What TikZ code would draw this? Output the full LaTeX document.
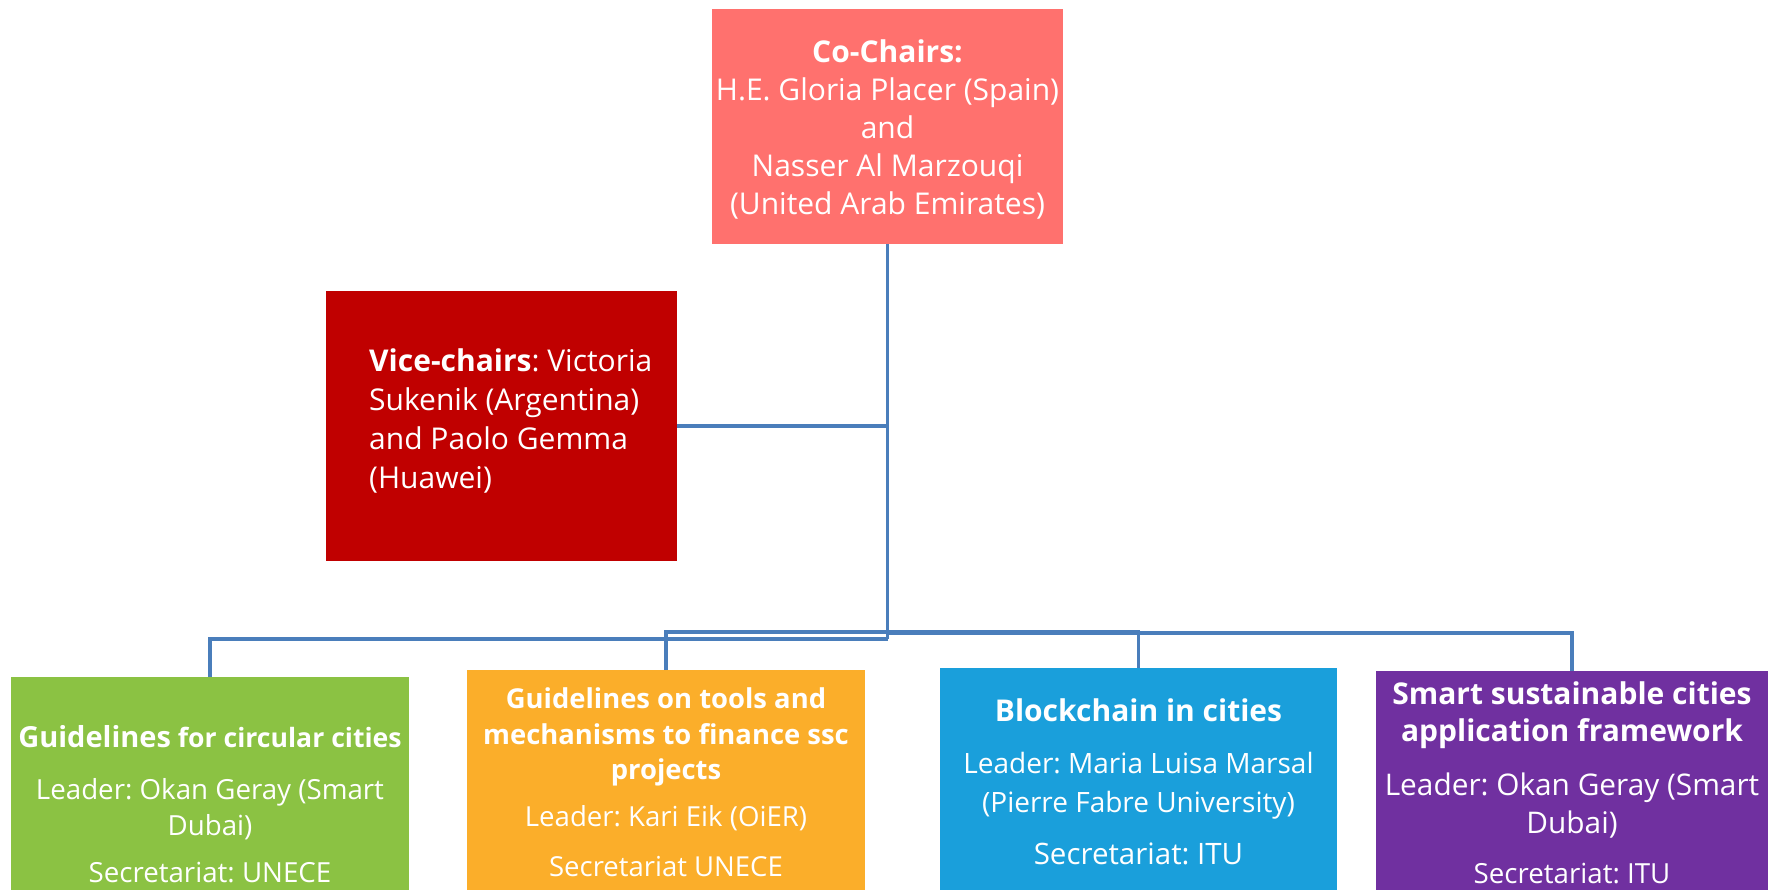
\documentclass[tikz,border=0pt]{standalone}
\usepackage{fontspec}
\setmainfont{Open Sans}
\frenchspacing
\definecolor{cochairc}{HTML}{FF716E}
\definecolor{vicec}{HTML}{C00000}
\definecolor{greenc}{HTML}{8BC243}
\definecolor{orangec}{HTML}{FBAE2A}
\definecolor{bluec}{HTML}{1A9FDB}
\definecolor{purplec}{HTML}{7030A0}
\definecolor{linec}{HTML}{4A7EBB}
\begin{document}
\begin{tikzpicture}[x=1pt,y=-1pt,
  box/.style={draw=none, inner sep=0pt, outer sep=0pt, anchor=north west},
  conn/.style={draw=linec, line width=3.2pt},
  txt/.style={text=white, align=center, inner sep=0pt, font=\fontsize{30}{38}\selectfont\frenchspacing},
  ttl/.style={text=white, align=center, inner sep=0pt, font=\bfseries\fontsize{27.4}{35.5}\selectfont\frenchspacing},
  body/.style={text=white, align=center, inner sep=0pt, font=\fontsize{27.7}{36}\selectfont\frenchspacing}]
\useasboundingbox (0,0) rectangle (1777,890);
\clip (0,0) rectangle (1777,890);
% boxes
\node[box, fill=cochairc, minimum width=351pt, minimum height=235pt] (cochairs) at (712,9) {};
\node[box, fill=vicec, minimum width=351pt, minimum height=270pt] (vice) at (326,291) {};
\node[box, fill=greenc, minimum width=398pt, minimum height=240pt] (green) at (11,677) {};
\node[box, fill=orangec, minimum width=398pt, minimum height=240pt] (orange) at (467,670) {};
\node[box, fill=bluec, minimum width=397pt, minimum height=240pt] (blue) at (940,668) {};
\node[box, fill=purplec, minimum width=392pt, minimum height=240pt] (purple) at (1376,671) {};
% texts
\node[txt] (cochairs-t) at (887.5,129.5) {\textbf{Co-Chairs:}\\H.E. Gloria Placer (Spain)\\and\\Nasser Al Marzouqi\\(United Arab Emirates)};
\node[txt, align=left, anchor=west, font=\fontsize{30}{39}\selectfont\frenchspacing] (vice-t) at (369,421) {\textbf{Vice-chairs}: Victoria\\Sukenik (Argentina)\\and Paolo Gemma\\(Huawei)};
\node[ttl, font=\bfseries\fontsize{26.6}{35}\selectfont] (green-t) at (210,737) {{\fontsize{29}{35}\selectfont Guidelines} for circular cities};
\node[body] (green-l) at (210,809) {Leader: Okan Geray (Smart\\Dubai)};
\node[body] (green-s) at (210,873) {Secretariat: UNECE};
\node[ttl] (orange-t) at (666,737) {Guidelines on tools and\\mechanisms to finance ssc\\projects};
\node[body, font=\fontsize{27.6}{36}\selectfont\frenchspacing] (orange-l) at (666,818) {Leader: Kari Eik (OiER)};
\node[body, font=\fontsize{27.5}{36}\selectfont\frenchspacing] (orange-s) at (666,867) {Secretariat UNECE};
\node[ttl, font=\bfseries\fontsize{30}{36}\selectfont] (blue-t) at (1138.5,710) {Blockchain in cities};
\node[body, font=\fontsize{28}{39}\selectfont\frenchspacing] (blue-l) at (1138.5,785.5) {Leader: Maria Luisa Marsal\\(Pierre Fabre University)};
\node[body, font=\fontsize{29.5}{36}\selectfont\frenchspacing] (blue-s) at (1138.5,854) {Secretariat: ITU};
\node[ttl, font=\bfseries\fontsize{30}{37}\selectfont] (purple-t) at (1572,715) {Smart sustainable cities\\application framework};
\node[body, font=\fontsize{29.8}{38}\selectfont\frenchspacing] (purple-l) at (1572,806) {Leader: Okan Geray (Smart\\Dubai)};
\node[body] (purple-s) at (1572,874) {Secretariat: ITU};
% connectors
\coordinate (tb) at (887.5,639);
\coordinate (bj) at (1138.5,632);
\coordinate (pj) at (887.5,633);
\draw[conn] (cochairs.south) -- (tb);
\draw[conn] (vice.east) -- (vice.east -| tb);
\draw[conn] (tb) -| (green.north);
\draw[conn] (orange.north) |- (bj) -- (blue.north);
\draw[conn] (pj) -| (purple.north);
\end{tikzpicture}
\end{document}
